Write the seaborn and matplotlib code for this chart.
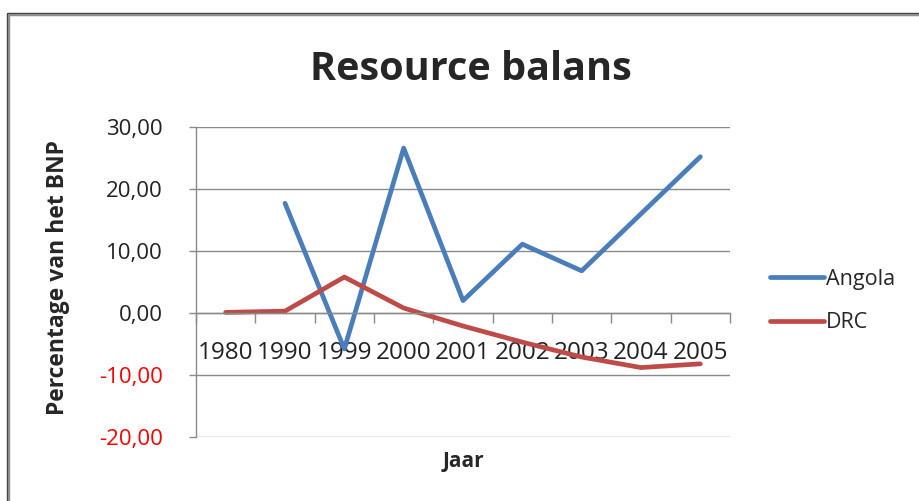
import numpy as np
import pandas as pd
import matplotlib
matplotlib.use("Agg")
import matplotlib.pyplot as plt
from matplotlib.lines import Line2D
import seaborn as sns

jaren = ['1980', '1990', '1999', '2000', '2001', '2002', '2003', '2004', '2005']
angola = [np.nan, 17.7, -5.8, 26.6, 2.0, 11.1, 6.8, 16.0, 25.2]
drc = [0.1, 0.3, 5.8, 0.8, -2.1, -4.7, -7.1, -8.8, -8.2]
kleuren = {'Angola': '#4A7EBB', 'DRC': '#BE4B48'}

df = pd.DataFrame({'pos': list(range(len(jaren))) * 2,
                   'waarde': angola + drc,
                   'land': ['Angola'] * len(jaren) + ['DRC'] * len(jaren)})

sns.set_style('white')
plt.rcParams['font.family'] = ['Open Sans', 'DejaVu Sans']

fig = plt.figure(figsize=(9.19, 5.01), dpi=100)
ax = fig.add_axes([196 / 919, 1 - 437 / 501, 534 / 919, 310 / 501])

sns.lineplot(data=df, x='pos', y='waarde', hue='land', palette=kleuren,
             linewidth=3.4, ax=ax, legend=False, sort=False)

ax.set_xlim(-0.5, len(jaren) - 0.5)
ax.set_ylim(-20, 30)
yticks = [-20, -10, 0, 10, 20, 30]
ax.set_yticks(yticks)
ax.set_yticklabels([f"{v:.2f}".replace('.', ',') for v in yticks])
for lab, v in zip(ax.get_yticklabels(), yticks):
    lab.set_color('#FF0000' if v < 0 else '#222222')
ax.tick_params(axis='y', direction='out', length=5, color='#8a8a8a',
               width=1, labelsize=16, pad=19, left=True)

# category axis crosses at 0
ax.spines['bottom'].set_position(('data', 0))
ax.set_xticks(range(len(jaren)))
ax.set_xticklabels(jaren)
ax.set_xticks(np.arange(-0.5, len(jaren)), minor=True)
ax.tick_params(axis='x', which='major', length=0, labelsize=17.5, pad=20,
               labelcolor='#222222')
ax.tick_params(axis='x', which='minor', direction='out', length=7,
               color='#8a8a8a', width=1, bottom=True)

ax.grid(axis='y', color='#8a8a8a', linewidth=1)
ax.set_axisbelow(True)
for s in ['top', 'right']:
    ax.spines[s].set_visible(False)
for s in ['left', 'bottom']:
    ax.spines[s].set_color('#8a8a8a')
    ax.spines[s].set_linewidth(1)

ax.set_xlabel('')
ax.set_ylabel('Percentage van het BNP', fontsize=16.5, fontweight='bold')
ax.yaxis.set_label_coords(-0.236, 0.515)
fig.text(463 / 919, 1 - 461 / 501, 'Jaar', ha='center', va='center',
         fontsize=15, fontweight='bold')
fig.text(471 / 919, 1 - 70 / 501, 'Resource balans', ha='center', va='center',
         fontsize=28.5, fontweight='bold')

# legend outside the plot area
handles = [Line2D([], [], color=kleuren[k], linewidth=3.4) for k in kleuren]
fig.legend(handles, list(kleuren), loc='center left',
           bbox_to_anchor=(751 / 919, 1 - 301 / 501), frameon=False,
           fontsize=15.5, handlelength=2.5, handletextpad=0.1, labelspacing=1.05)

# chart frame
fig.add_artist(Line2D([8 / 919, 8 / 919], [0, 1 - 14 / 501], color='#909090',
                      linewidth=2.5, transform=fig.transFigure))
fig.add_artist(Line2D([8 / 919, 1], [1 - 14 / 501, 1 - 14 / 501], color='#909090',
                      linewidth=2.5, transform=fig.transFigure))
fig.add_artist(Line2D([6.5 / 919, 6.5 / 919], [0, 1 - 12.5 / 501], color='#444444',
                      linewidth=0.8, transform=fig.transFigure))
fig.add_artist(Line2D([6.5 / 919, 1], [1 - 12.5 / 501, 1 - 12.5 / 501], color='#444444',
                      linewidth=0.8, transform=fig.transFigure))

fig.savefig('out.png', dpi=100)
